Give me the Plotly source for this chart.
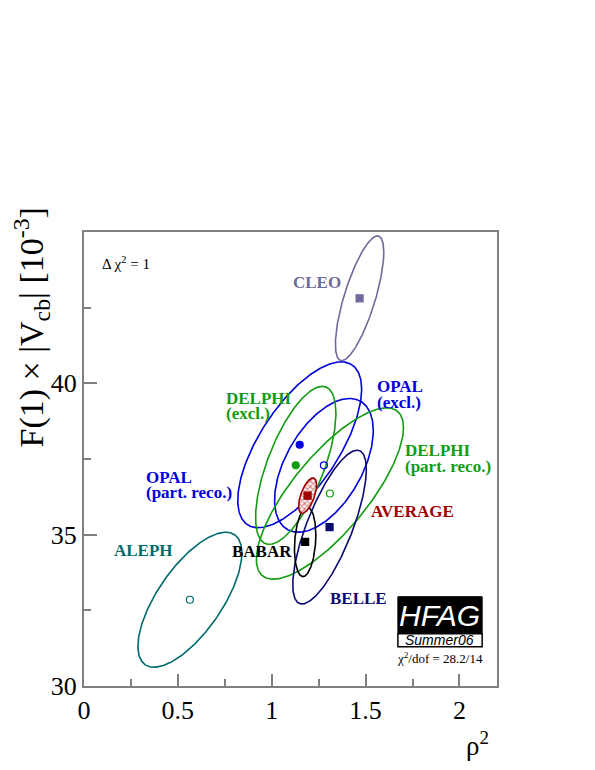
import numpy as np
import plotly.graph_objects as go

# ---- data ----
names     = ["CLEO", "ALEPH", "OPAL (part. reco.)", "OPAL (excl.)",
             "DELPHI (excl.)", "DELPHI (part. reco.)", "BELLE", "BABAR", "AVERAGE"]
rho2      = [1.468, 0.564, 1.149, 1.278, 1.128, 1.310, 1.308, 1.178, 1.191]
fvcb      = [42.81, 32.85, 37.97, 37.29, 37.29, 36.36, 35.25, 34.76, 36.29]
sig_rho2  = [0.129, 0.277, 0.330, 0.263, 0.214, 0.392, 0.196, 0.057, 0.048]
sig_fvcb  = [2.06, 2.23, 2.74, 2.21, 2.61, 2.83, 2.54, 1.145, 0.584]
corr      = [0.74, 0.69, 0.67, 0.52, 0.66, 0.77, 0.75, 0.20, 0.60]

x_ticks = [0, 0.5, 1, 1.5, 2]
x_ticktext = ["0", "0.5", "1", "1.5", "2"]
y_ticks = [30, 35, 40]
y_ticktext = ["30", "35", "40"]

chi2_text = "χ<sup>2</sup>/dof = 28.2/14"

# ---- styles ----
col = {
    "CLEO": "#6e6a9b", "ALEPH": "#006b6b", "OPAL (part. reco.)": "#0000dd",
    "OPAL (excl.)": "#0000dd", "DELPHI (excl.)": "#119c11",
    "DELPHI (part. reco.)": "#119c11", "BELLE": "#0a0a72", "BABAR": "#000000",
    "AVERAGE": "#a00000",
}
msym = {
    "CLEO": "square", "ALEPH": "circle-open", "OPAL (part. reco.)": "circle",
    "OPAL (excl.)": "circle-open", "DELPHI (excl.)": "circle",
    "DELPHI (part. reco.)": "circle-open", "BELLE": "square", "BABAR": "square",
    "AVERAGE": "square",
}

SERIF = "Liberation Serif"
SANS = "Liberation Sans"

fig = go.Figure()
t = np.linspace(0, 2 * np.pi, 361)
for n, x0, y0, sx, sy, r in zip(names, rho2, fvcb, sig_rho2, sig_fvcb, corr):
    ex = x0 + sx * np.cos(t)
    ey = y0 + sy * (r * np.cos(t) + np.sqrt(1 - r * r) * np.sin(t))
    kw = {}
    if n == "AVERAGE":
        kw = dict(fill="toself", fillcolor="rgba(0,0,0,0)",
                  fillpattern=dict(shape="x", fgcolor=col[n], bgcolor="white",
                                   size=4, solidity=0.5))
    fig.add_trace(go.Scatter(x=ex, y=ey, mode="lines",
                             line=dict(color=col[n], width=1.6),
                             hoverinfo="skip", showlegend=False, **kw))

for n, x0, y0 in zip(names, rho2, fvcb):
    sym = msym[n]
    fig.add_trace(go.Scatter(x=[x0], y=[y0], mode="markers",
                             marker=dict(symbol=sym, size=7, color=col[n],
                                         line=dict(color=col[n], width=1.2)),
                             showlegend=False, name=n))

# ---- labels ----
lab_font = dict(family=SERIF, size=17, weight="bold")
labels = [
    ("CLEO", 1.103, 43.32, col["CLEO"]),
    ("DELPHI", 0.745, 39.50, col["DELPHI (excl.)"]),
    ("(excl.)", 0.745, 39.00, col["DELPHI (excl.)"]),
    ("OPAL", 1.549, 39.90, col["OPAL (excl.)"]),
    ("(excl.)", 1.549, 39.38, col["OPAL (excl.)"]),
    ("DELPHI", 1.699, 37.77, col["DELPHI (part. reco.)"]),
    ("(part. reco.)", 1.699, 37.24, col["DELPHI (part. reco.)"]),
    ("OPAL", 0.321, 36.90, col["OPAL (part. reco.)"]),
    ("(part. reco.)", 0.321, 36.40, col["OPAL (part. reco.)"]),
    ("AVERAGE", 1.517, 35.76, col["AVERAGE"]),
    ("ALEPH", 0.150, 34.47, col["ALEPH"]),
    ("BABAR", 0.778, 34.44, col["BABAR"]),
    ("BELLE", 1.299, 32.89, col["BELLE"]),
]
ann = []
for txt, x, y, c in labels:
    ann.append(dict(x=x, y=y, xref="x", yref="y", text=txt, showarrow=False,
                    xanchor="left", yanchor="middle",
                    font=dict(color=c, **lab_font)))

ann.append(dict(x=0.085, y=43.98, xref="x", yref="y",
                text="Δ χ<sup>2</sup> = 1", showarrow=False, xanchor="left",
                yanchor="middle", font=dict(family=SERIF, size=15, color="black")))

# HFAG logo
fig.add_shape(type="rect", x0=1.672, x1=2.121, y0=31.73, y1=32.95,
              xref="x", yref="y", fillcolor="black", line=dict(color="black", width=1))
fig.add_shape(type="rect", x0=1.672, x1=2.121, y0=31.30, y1=31.73,
              xref="x", yref="y", fillcolor="white", line=dict(color="black", width=1.5))
ann.append(dict(x=1.896, y=32.34, xref="x", yref="y", text="HFAG", showarrow=False,
                xanchor="center", yanchor="middle",
                font=dict(family=SANS, size=30, color="white", style="italic")))
ann.append(dict(x=1.896, y=31.52, xref="x", yref="y", text="Summer06", showarrow=False,
                xanchor="center", yanchor="middle",
                font=dict(family=SANS, size=14, color="black", style="italic")))
ann.append(dict(x=1.896, y=30.94, xref="x", yref="y", text=chi2_text, showarrow=False,
                xanchor="center", yanchor="middle",
                font=dict(family=SERIF, size=13, color="black")))

# axis titles
ann.append(dict(x=-0.128, y=0.79, xref="paper", yref="paper",
                xanchor="center", yanchor="middle",
                text="F(1) × |V<sub>cb</sub>| [10<sup>-3</sup>]", textangle=-90,
                showarrow=False, font=dict(family=SERIF, size=34, color="black")))
ann.append(dict(x=0.952, y=-0.128, xref="paper", yref="paper",
                xanchor="center", yanchor="middle",
                text="ρ<sup>2</sup>", showarrow=False,
                font=dict(family=SERIF, size=27, color="black")))

axis_common = dict(showline=True, linecolor="#808080", linewidth=2, mirror=True,
                   ticks="inside", tickcolor="#808080", tickwidth=1.5,
                   showgrid=False, zeroline=False,
                   tickfont=dict(family=SERIF, size=26, color="black"))

fig.update_layout(
    width=595, height=770,
    margin=dict(l=76, r=106, t=224, b=92, autoexpand=False),
    paper_bgcolor="white", plot_bgcolor="white",
    xaxis=dict(range=[0, 2.2], tickvals=x_ticks, ticktext=x_ticktext, ticklen=12,
               minor=dict(ticks="inside", dtick=0.25, tick0=0, ticklen=7,
                          tickcolor="#808080", tickwidth=1.5),
               **axis_common),
    yaxis=dict(range=[30, 45], tickvals=y_ticks, ticktext=y_ticktext, ticklen=13,
               minor=dict(ticks="inside", dtick=2.5, tick0=30, ticklen=7,
                          tickcolor="#808080", tickwidth=1.5),
               **axis_common),
    annotations=ann,
)

fig.write_html("out.html")
